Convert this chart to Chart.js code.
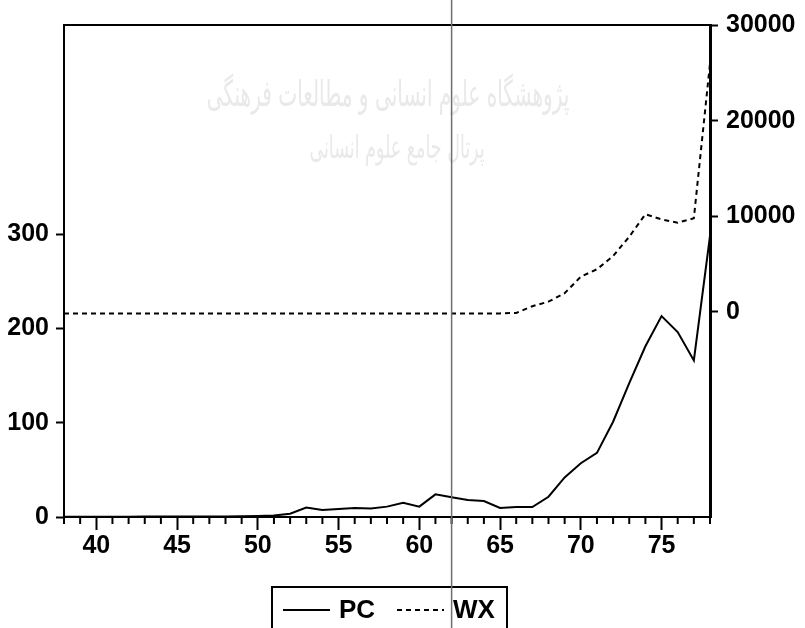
<!DOCTYPE html>
<html>
<head>
<meta charset="utf-8">
<script src="https://cdn.jsdelivr.net/npm/chart.js@4/dist/chart.umd.min.js"></script>
<style>
  html, body { margin: 0; padding: 0; background: #ffffff; }
  #wrap { width: 805px; height: 628px; position: relative; }
</style>
</head>
<body>
<div id="wrap"><canvas id="c" width="805" height="628"></canvas></div>
<script>
// Years (Iranian calendar, 13xx) on the horizontal axis
const years = [38, 39, 40, 41, 42, 43, 44, 45, 46, 47, 48, 49, 50, 51, 52, 53, 54, 55, 56, 57,
               58, 59, 60, 61, 62, 63, 64, 65, 66, 67, 68, 69, 70, 71, 72, 73, 74, 75, 76, 77, 78];

// PC series (left axis)
const pcValues = [0.3, 0.3, 0.3, 0.3, 0.3, 0.4, 0.4, 0.4, 0.5, 0.5, 0.6, 0.8, 1.0, 1.5, 3.5, 10, 7.5, 8.5, 9.5, 9,
                  11, 15, 11, 24, 21, 18, 17, 9.5, 10.5, 10.5, 21.5, 42, 57, 68, 101, 142, 181, 213, 196, 166, 298];

// WX series (right axis)
const wxValues = [-150, -150, -150, -150, -150, -150, -150, -150, -150, -150, -150, -150, -150, -150, -150, -150, -150, -150, -150, -150,
                  -150, -150, -150, -150, -150, -150, -150, -150, -100, 600, 1080, 1960, 3700, 4470, 5860, 7880, 10230, 9700, 9350, 9810, 26000];

const seriesNames = ['PC', 'WX'];
const xTickValues = [40, 45, 50, 55, 60, 65, 70, 75];
const leftTickValues = [0, 100, 200, 300];
const rightTickValues = [0, 10000, 20000, 30000];
const markerYear = 62;
const watermarkLines = ['پژوهشگاه علوم انسانی و مطالعات فرهنگی', 'پرتال جامع علوم انسانی'];

const FONT = { family: '"Liberation Sans", Arial, sans-serif', size: 25, weight: 'bold' };
const INK = '#000000';

function pts(vals) { return years.map((y, i) => ({ x: y, y: vals[i] })); }
const plainLabel = v => String(v);

const framePlugin = {
  id: 'frameAndExtras',
  beforeDraw(chart) {
    const ctx = chart.ctx;
    ctx.save();
    ctx.fillStyle = '#ffffff';
    ctx.fillRect(0, 0, chart.width, chart.height);
    // faint background lettering
    ctx.fillStyle = '#e9e9e9';
    ctx.textAlign = 'center';
    ctx.textBaseline = 'middle';
    ctx.direction = 'rtl';
    const widths = [363, 175];
    const centers = [[388, 97], [397, 150]];
    watermarkLines.forEach((t, i) => {
      ctx.font = '30px "DejaVu Sans", sans-serif';
      const w = ctx.measureText(t).width;
      const size = 30 * widths[i] / w;
      ctx.font = size.toFixed(1) + 'px "DejaVu Sans", sans-serif';
      ctx.save();
      ctx.translate(centers[i][0], centers[i][1]);
      ctx.scale(1, 1.8);
      ctx.fillText(t, 0, 0);
      ctx.restore();
    });
    ctx.restore();
  },
  afterDraw(chart) {
    const ctx = chart.ctx;
    const a = chart.chartArea;
    const xs = chart.scales.x;
    ctx.save();
    // top edge of the frame
    ctx.strokeStyle = INK;
    ctx.lineWidth = 2;
    ctx.beginPath();
    ctx.moveTo(a.left - 1, a.top);
    ctx.lineTo(a.right + 1, a.top);
    ctx.stroke();
    // yearly minor ticks below the bottom axis
    ctx.lineWidth = 2;
    years.forEach(y => {
      if (xTickValues.includes(y)) return;
      const px = xs.getPixelForValue(y);
      ctx.beginPath();
      ctx.moveTo(px, a.bottom);
      ctx.lineTo(px, a.bottom + 7);
      ctx.stroke();
    });
    // legend box
    const lx = 272, ly = 587, lw = 235, lh = 46;
    ctx.lineWidth = 2;
    ctx.strokeRect(lx, ly, lw, lh);
    const midY = 610;
    ctx.beginPath();
    ctx.moveTo(283, midY);
    ctx.lineTo(330, midY);
    ctx.stroke();
    ctx.setLineDash([5, 4]);
    ctx.beginPath();
    ctx.moveTo(397, midY);
    ctx.lineTo(444, midY);
    ctx.stroke();
    ctx.setLineDash([]);
    ctx.fillStyle = INK;
    ctx.font = 'bold 26px "Liberation Sans", Arial, sans-serif';
    ctx.textAlign = 'left';
    ctx.textBaseline = 'middle';
    ctx.fillText(seriesNames[0], 339, midY + 1);
    ctx.fillText(seriesNames[1], 453, midY + 1);
    // thin grey vertical rule through the whole figure
    const vx = xs.getPixelForValue(markerYear);
    ctx.strokeStyle = '#6e6e6e';
    ctx.lineWidth = 1.5;
    ctx.beginPath();
    ctx.moveTo(vx, 0);
    ctx.lineTo(vx, chart.height);
    ctx.stroke();
    ctx.restore();
  }
};

new Chart(document.getElementById('c'), {
  type: 'line',
  data: {
    datasets: [
      {
        label: seriesNames[0],
        data: pts(pcValues),
        yAxisID: 'y',
        borderColor: INK,
        borderWidth: 2,
        pointRadius: 0,
        tension: 0,
        fill: false
      },
      {
        label: seriesNames[1],
        data: pts(wxValues),
        yAxisID: 'y1',
        borderColor: INK,
        borderWidth: 2,
        borderDash: [5, 4],
        pointRadius: 0,
        tension: 0,
        fill: false
      }
    ]
  },
  options: {
    responsive: false,
    animation: false,
    devicePixelRatio: 1,
    layout: { padding: { top: 25, left: 0, right: 0, bottom: 0 } },
    plugins: { legend: { display: false }, tooltip: { enabled: false } },
    scales: {
      x: {
        type: 'linear',
        position: 'bottom',
        min: 38,
        max: 78,
        afterBuildTicks: s => { s.ticks = xTickValues.map(v => ({ value: v })); },
        afterFit: s => { s.height = 111; },
        border: { display: true, color: INK, width: 2 },
        grid: { drawOnChartArea: false, drawTicks: true, tickLength: 13, tickWidth: 2, tickColor: INK },
        ticks: { color: INK, font: FONT, padding: 1, maxRotation: 0, autoSkip: false, callback: plainLabel }
      },
      y: {
        type: 'linear',
        position: 'left',
        min: 0,
        max: 521.6,
        afterBuildTicks: s => { s.ticks = leftTickValues.map(v => ({ value: v })); },
        afterFit: s => { s.width = 64; },
        border: { display: true, color: INK, width: 2 },
        grid: { drawOnChartArea: false, drawTicks: true, tickLength: 8, tickWidth: 2, tickColor: INK },
        ticks: { color: INK, font: FONT, padding: 7, autoSkip: false, callback: plainLabel }
      },
      y1: {
        type: 'linear',
        position: 'right',
        min: -21470,
        max: 30050,
        afterBuildTicks: s => { s.ticks = rightTickValues.map(v => ({ value: v })); },
        afterFit: s => { s.width = 95; },
        border: { display: true, color: INK, width: 3 },
        grid: { drawOnChartArea: false, drawTicks: true, tickLength: 8, tickWidth: 2, tickColor: INK },
        ticks: { color: INK, font: FONT, padding: 8, autoSkip: false, callback: plainLabel }
      }
    }
  },
  plugins: [framePlugin]
});
</script>
</body>
</html>
